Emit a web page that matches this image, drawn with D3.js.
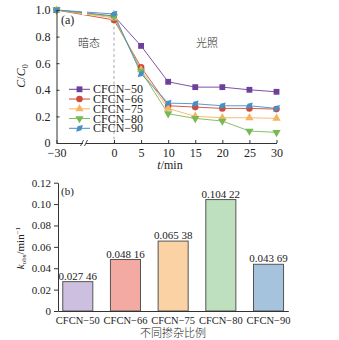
<!DOCTYPE html>
<html><head><meta charset="utf-8">
<script src="https://cdn.jsdelivr.net/npm/d3@7"></script>
<style>
body{margin:0;background:#fff;}
svg{display:block;}
text{font-family:"Liberation Serif","Times New Roman",serif;fill:#222;}
.cjk{font-family:"Noto Sans CJK SC",sans-serif;font-weight:300;}
</style></head><body>
<svg id="c" width="339" height="340"></svg>
<script>
// ---- data (a) ----
const times = [-30, 0, 5, 10, 15, 20, 25, 30];
const seriesNames = ["CFCN\u221250", "CFCN\u221266", "CFCN\u221275", "CFCN\u221280", "CFCN\u221290"];
const cfcn50 = [1, 0.955, 0.73, 0.46, 0.42, 0.42, 0.40, 0.385];
const cfcn66 = [1, 0.925, 0.57, 0.28, 0.27, 0.26, 0.26, 0.255];
const cfcn75 = [1, 0.94, 0.55, 0.26, 0.20, 0.19, 0.19, 0.185];
const cfcn80 = [1, 0.95, 0.54, 0.22, 0.185, 0.165, 0.09, 0.08];
const cfcn90 = [1, 0.97, 0.52, 0.30, 0.295, 0.28, 0.28, 0.26];
const xTicksA = [-30, 0, 5, 10, 15, 20, 25, 30];
const yTicksA = [0, 0.2, 0.4, 0.6, 0.8, 1.0];
// ---- data (b) ----
const barCats = ["CFCN\u221250", "CFCN\u221266", "CFCN\u221275", "CFCN\u221280", "CFCN\u221290"];
const kobs = [0.02746, 0.04816, 0.06538, 0.10422, 0.04369];
const kLabels = ["0.027 46", "0.048 16", "0.065 38", "0.104 22", "0.043 69"];
const yTicksB = [0, 0.02, 0.04, 0.06, 0.08, 0.10, 0.12];

const lineColors = ["#6f3f9c", "#cf4a3c", "#f5b461", "#79b955", "#4590c6"];
const barColors = ["#cdbfdf", "#f3aaa3", "#fad2a3", "#bfe0bf", "#a5c3dd"];
const markers = [d3.symbolSquare, d3.symbolCircle, d3.symbolTriangle, d3.symbolTriangle, d3.symbolDiamond];
const markerRot = [0, 0, 0, 180, 45];
const markerSize = [34, 34, 30, 30, 26];
const allSeries = [cfcn50, cfcn66, cfcn75, cfcn80, cfcn90];

const svg = d3.select("#c");

// ================= chart (a) =================
const xA = d3.scaleLinear().domain([-30, 0, 30]).range([56.5, 114, 276.5]);
const yA = d3.scaleLinear().domain([0, 1]).range([143, 10]);
const gA = svg.append("g");

// dashed separator
gA.append("line").attr("x1", xA(0)).attr("x2", xA(0)).attr("y1", yA(1)).attr("y2", yA(0))
  .attr("stroke", "#aaa").attr("stroke-width", 1).attr("stroke-dasharray", "3,2.5");

const line = d3.line().x((d, i) => xA(times[i])).y(d => yA(d));
allSeries.forEach((s, k) => {
  gA.append("path").datum(s).attr("d", line).attr("fill", "none")
    .attr("stroke", lineColors[k]).attr("stroke-width", 1).attr("opacity", 0.9);
});
// break gap in lines
gA.append("rect").attr("x", 82).attr("y", yA(1) - 5).attr("width", 5).attr("height", 10).attr("fill", "#fff");

allSeries.forEach((s, k) => {
  gA.selectAll(null).data(s).enter().append("path")
    .attr("d", d3.symbol().type(markers[k]).size(markerSize[k]))
    .attr("transform", (d, i) => `translate(${xA(times[i])},${yA(d)}) rotate(${markerRot[k]})`)
    .attr("fill", lineColors[k]);
});

// axes
const axA_y = gA.append("g").attr("transform", `translate(${xA(-30)},0)`)
  .call(d3.axisLeft(yA).tickValues(yTicksA).tickSize(-3).tickSizeOuter(0).tickPadding(6)
    .tickFormat(d => d === 0 ? "0" : d3.format(".1f")(d)));
const axA_x = gA.append("g").attr("transform", `translate(0,${yA(0)})`)
  .call(d3.axisBottom(xA).tickValues(xTicksA).tickSize(-3).tickSizeOuter(0).tickPadding(5)
    .tickFormat(d => d < 0 ? "\u2212" + Math.abs(d) : d));
[axA_y, axA_x].forEach(a => {
  a.selectAll("path,line").attr("stroke", "#333");
  a.selectAll("text").attr("font-size", 12).attr("fill", "#222")
    .style("font-family", '"Liberation Serif",serif');
});
// axis break
gA.append("rect").attr("x", 83).attr("y", yA(0) - 2).attr("width", 3).attr("height", 4).attr("fill", "#fff");
[82, 86].forEach(x0 => {
  gA.append("line").attr("x1", x0 - 1.5).attr("y1", yA(0) + 3).attr("x2", x0 + 1.5).attr("y2", yA(0) - 3)
    .attr("stroke", "#333").attr("stroke-width", 0.9);
});

// labels
gA.append("text").attr("x", 61).attr("y", 24).attr("font-size", 12).text("(a)");
gA.append("text").attr("class", "cjk").attr("x", 89).attr("y", 47).attr("font-size", 11)
  .attr("text-anchor", "middle").text("暗态");
gA.append("text").attr("class", "cjk").attr("x", 207).attr("y", 47).attr("font-size", 11)
  .attr("text-anchor", "middle").text("光照");
const ylabA = gA.append("text").attr("transform", "translate(25,76) rotate(-90)")
  .attr("text-anchor", "middle").attr("font-size", 12);
ylabA.append("tspan").attr("font-style", "italic").text("C");
ylabA.append("tspan").text("/");
ylabA.append("tspan").attr("font-style", "italic").text("C");
ylabA.append("tspan").attr("font-size", 8).attr("dy", 3).text("0");
const xlabA = gA.append("text").attr("x", 170).attr("y", 169).attr("text-anchor", "middle").attr("font-size", 12);
xlabA.append("tspan").attr("font-style", "italic").text("t");
xlabA.append("tspan").text("/min");

// legend
seriesNames.forEach((n, k) => {
  const y = 89.3 + k * 9.75;
  gA.append("line").attr("x1", 69).attr("x2", 90).attr("y1", y).attr("y2", y)
    .attr("stroke", lineColors[k]).attr("stroke-width", 1);
  gA.append("path").attr("d", d3.symbol().type(markers[k]).size(markerSize[k]))
    .attr("transform", `translate(79.5,${y}) rotate(${markerRot[k]})`).attr("fill", lineColors[k]);
  gA.append("text").attr("x", 93).attr("y", y + 4).attr("font-size", 12).text(n);
});

// ================= chart (b) =================
const xB = d3.scaleBand().domain(barCats).range([58, 288.3]).paddingInner(0.37).paddingOuter(0.1);
const yB = d3.scaleLinear().domain([0, 0.12]).range([311, 182.7]);
const gB = svg.append("g");

gB.selectAll("rect.bar").data(kobs).enter().append("rect").attr("class", "bar")
  .attr("x", (d, i) => xB(barCats[i])).attr("width", xB.bandwidth())
  .attr("y", d => yB(d)).attr("height", d => yB(0) - yB(d))
  .attr("fill", (d, i) => barColors[i]).attr("stroke", "#555").attr("stroke-width", 1);
gB.selectAll("text.val").data(kobs).enter().append("text").attr("class", "val")
  .attr("x", (d, i) => xB(barCats[i]) + xB.bandwidth() / 2).attr("y", d => yB(d) - 2)
  .attr("text-anchor", "middle").attr("font-size", 11).text((d, i) => kLabels[i]);

const axB_y = gB.append("g").attr("transform", "translate(58,0)")
  .call(d3.axisLeft(yB).tickValues(yTicksB).tickSize(4).tickSizeOuter(0).tickPadding(3)
    .tickFormat(d => d === 0 ? "0" : d3.format(".2f")(d)));
const axB_x = gB.append("g").attr("transform", `translate(0,${yB(0)})`)
  .call(d3.axisBottom(xB).tickSize(0).tickSizeOuter(0).tickPadding(6));
[axB_y, axB_x].forEach(a => {
  a.selectAll("path,line").attr("stroke", "#333");
  a.selectAll("text").attr("font-size", 11).attr("fill", "#222")
    .style("font-family", '"Liberation Serif",serif');
});
axB_x.selectAll("text").attr("font-size", 10.5);
gB.append("text").attr("x", 61).attr("y", 195).attr("font-size", 11).text("(b)");
gB.append("text").attr("class", "cjk").attr("x", 173).attr("y", 336.5).attr("text-anchor", "middle")
  .attr("font-size", 11).text("不同掺杂比例");
const ylabB = gB.append("text").attr("transform", "translate(24,248) rotate(-90)")
  .attr("text-anchor", "middle").attr("font-size", 11);
ylabB.append("tspan").attr("font-style", "italic").text("k");
ylabB.append("tspan").attr("font-size", 7).attr("dy", 2).text("obs");
ylabB.append("tspan").attr("dy", -2).text("/min");
ylabB.append("tspan").attr("font-size", 7).attr("dy", -4).text("\u22121");
</script>
</body></html>
